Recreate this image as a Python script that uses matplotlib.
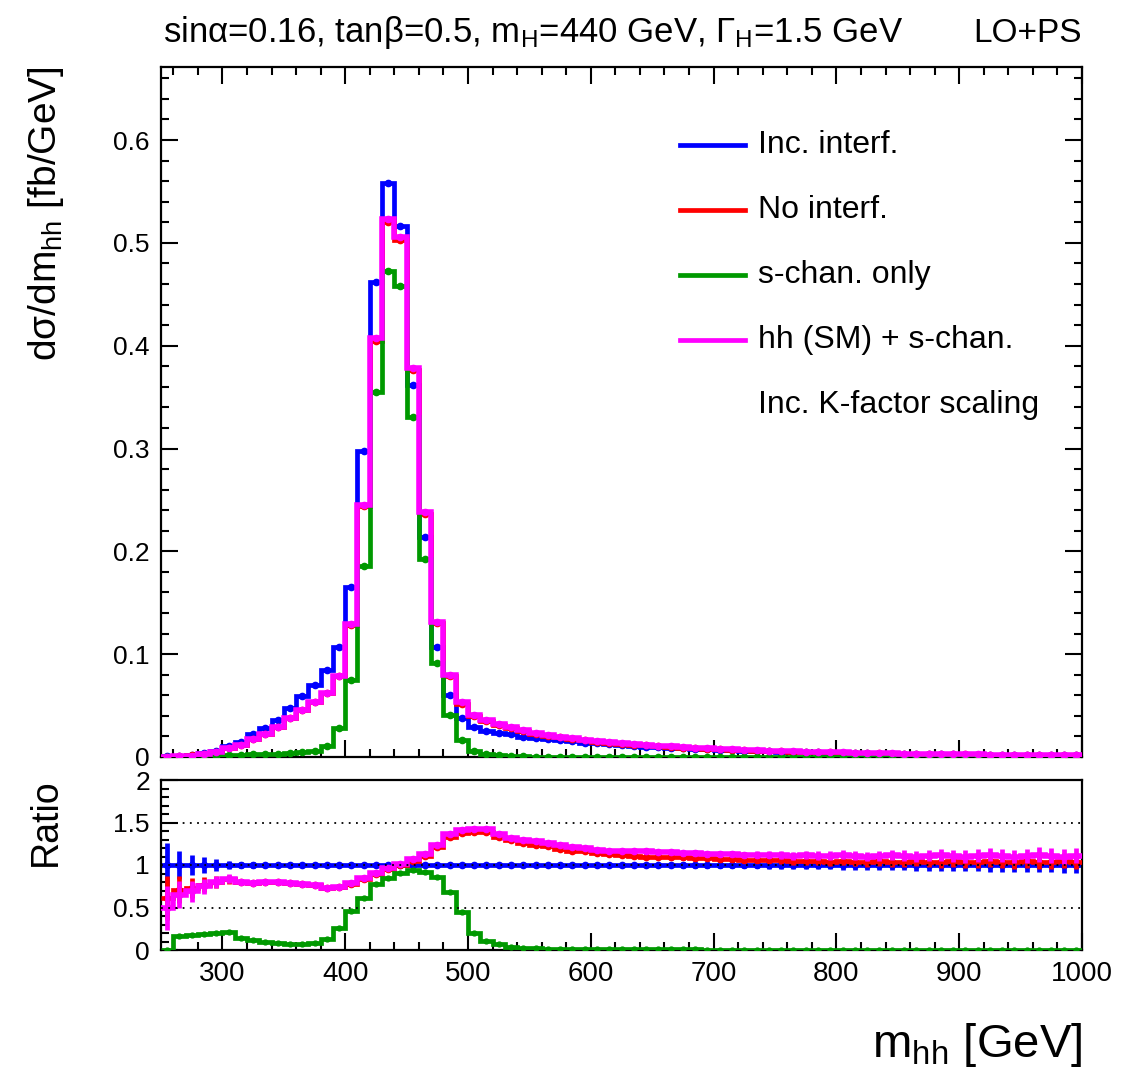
import numpy as np
import matplotlib
matplotlib.use("Agg")
import matplotlib.pyplot as plt
from matplotlib.ticker import MultipleLocator, FormatStrFormatter

plt.rcParams['font.family'] = ['Liberation Sans', 'DejaVu Sans']
plt.rcParams['mathtext.fontset'] = 'custom'
plt.rcParams['mathtext.rm'] = 'Liberation Sans'
plt.rcParams['mathtext.it'] = 'Liberation Sans:italic'

# m_hh binning, 10 GeV bins from 250 to 1000 GeV
edges = np.arange(250, 1001, 10)
centers = 0.5 * (edges[1:] + edges[:-1])

# dsigma/dm_hh [fb/GeV]
inc_interf = [0.0005, 0.0010, 0.0020, 0.0040, 0.0062, 0.0110, 0.0150, 0.0220, 0.0280, 0.0360,
              0.0480, 0.0590, 0.0700, 0.0850, 0.1070, 0.1650, 0.2980, 0.4620, 0.5580, 0.5160,
              0.3620, 0.2135, 0.1070, 0.0600, 0.0380, 0.0290, 0.0252, 0.0238, 0.0221, 0.0199,
              0.0182, 0.0171, 0.0162, 0.0151, 0.0139, 0.0132, 0.0124, 0.0115, 0.0109, 0.0102,
              0.0096, 0.0090, 0.0085, 0.0080, 0.0075, 0.0071, 0.0066, 0.0063, 0.0059, 0.0055,
              0.0052, 0.0050, 0.0047, 0.0044, 0.0042, 0.0040, 0.0038, 0.0036, 0.0034, 0.0032,
              0.0031, 0.0029, 0.0028, 0.0026, 0.0025, 0.0024, 0.0023, 0.0022, 0.0021, 0.0020,
              0.0019, 0.0018, 0.0017, 0.0016, 0.0015]
no_interf = [0.0003, 0.0007, 0.0015, 0.0031, 0.0049, 0.0092, 0.0120, 0.0174, 0.0224, 0.0288,
             0.0380, 0.0460, 0.0530, 0.0620, 0.0790, 0.1285, 0.2440, 0.4050, 0.5200, 0.5030,
             0.3760, 0.2360, 0.1300, 0.0790, 0.0520, 0.0402, 0.0348, 0.0316, 0.0284, 0.0252,
             0.0226, 0.0209, 0.0193, 0.0177, 0.0161, 0.0150, 0.0140, 0.0130, 0.0121, 0.0112,
             0.0105, 0.0098, 0.0092, 0.0086, 0.0081, 0.0076, 0.0071, 0.0067, 0.0063, 0.0059,
             0.0055, 0.0052, 0.0049, 0.0046, 0.0044, 0.0042, 0.0040, 0.0038, 0.0036, 0.0034,
             0.0032, 0.0030, 0.0029, 0.0027, 0.0026, 0.0025, 0.0024, 0.0023, 0.0022, 0.0021,
             0.0020, 0.0019, 0.0018, 0.0017, 0.0016]
s_chan = [0.0, 0.0002, 0.0004, 0.0008, 0.0012, 0.0023, 0.0022, 0.0026, 0.0026, 0.0028,
          0.0036, 0.0044, 0.0060, 0.0106, 0.0278, 0.0750, 0.1860, 0.3550, 0.4730, 0.4580,
          0.3310, 0.1930, 0.0915, 0.0408, 0.0170, 0.0062, 0.0027, 0.0016, 0.0009, 0.0006,
          0.0004, 0.0003, 0.0002, 0.0002, 0.0002, 0.0001, 0.0001, 0.0001, 0.0001, 0.0001,
          0.0001, 0.0001, 0.0001, 0.0001, 0.0001, 0.0001, 0.0001, 0.0001, 0.0001, 0.0001,
          0.0001, 0.0, 0.0, 0.0, 0.0, 0.0, 0.0, 0.0, 0.0, 0.0,
          0.0, 0.0, 0.0, 0.0, 0.0, 0.0, 0.0, 0.0, 0.0, 0.0,
          0.0, 0.0, 0.0, 0.0, 0.0]
sm_plus_s = [0.0003, 0.0007, 0.0014, 0.0030, 0.0049, 0.0092, 0.0120, 0.0174, 0.0224, 0.0288,
             0.0380, 0.0460, 0.0530, 0.0620, 0.0790, 0.1290, 0.2450, 0.4070, 0.5230, 0.5060,
             0.3780, 0.2380, 0.1316, 0.0800, 0.0530, 0.0410, 0.0355, 0.0322, 0.0290, 0.0258,
             0.0232, 0.0215, 0.0199, 0.0183, 0.0167, 0.0156, 0.0145, 0.0135, 0.0126, 0.0118,
             0.0110, 0.0103, 0.0097, 0.0091, 0.0085, 0.0080, 0.0075, 0.0070, 0.0066, 0.0062,
             0.0058, 0.0055, 0.0052, 0.0049, 0.0046, 0.0044, 0.0042, 0.0040, 0.0038, 0.0036,
             0.0034, 0.0032, 0.0031, 0.0029, 0.0028, 0.0027, 0.0025, 0.0024, 0.0023, 0.0022,
             0.0021, 0.0020, 0.0019, 0.0018, 0.0017]

# ratio to "Inc. interf."
ratio_inc = [1.0] * 75
ratio_noint = [0.61, 0.71, 0.73, 0.77, 0.80, 0.83, 0.80, 0.79, 0.80, 0.80,
               0.79, 0.78, 0.76, 0.73, 0.74, 0.78, 0.84, 0.90, 0.95, 1.00,
               1.05, 1.11, 1.21, 1.33, 1.38, 1.39, 1.39, 1.33, 1.29, 1.26,
               1.24, 1.22, 1.19, 1.17, 1.16, 1.14, 1.13, 1.12, 1.11, 1.10,
               1.10, 1.09, 1.09, 1.08, 1.08, 1.07, 1.07, 1.06, 1.06, 1.06,
               1.06, 1.05, 1.05, 1.05, 1.04, 1.05, 1.04, 1.04, 1.05, 1.04,
               1.04, 1.05, 1.04, 1.04, 1.05, 1.04, 1.04, 1.05, 1.04, 1.04,
               1.05, 1.04, 1.04, 1.05, 1.04]
ratio_schan = [0.0, 0.16, 0.18, 0.19, 0.195, 0.21, 0.145, 0.117, 0.094, 0.078,
               0.074, 0.074, 0.086, 0.125, 0.26, 0.456, 0.61, 0.78, 0.846, 0.905,
               0.936, 0.916, 0.858, 0.678, 0.444, 0.203, 0.105, 0.066, 0.039, 0.027,
               0.020, 0.016, 0.013, 0.011, 0.010, 0.009, 0.009, 0.008, 0.008, 0.007,
               0.007, 0.006, 0.006, 0.006, 0.005, 0.005, 0.005, 0.005, 0.004, 0.004,
               0.004, 0.004, 0.004, 0.003, 0.003, 0.003, 0.003, 0.003, 0.003, 0.003,
               0.003, 0.002, 0.002, 0.002, 0.002, 0.002, 0.002, 0.002, 0.002, 0.002,
               0.002, 0.002, 0.002, 0.002, 0.002]
ratio_sm_s = [0.49, 0.65, 0.69, 0.75, 0.80, 0.84, 0.80, 0.79, 0.80, 0.80,
              0.79, 0.78, 0.76, 0.73, 0.74, 0.79, 0.85, 0.91, 0.96, 1.01,
              1.07, 1.13, 1.24, 1.36, 1.41, 1.42, 1.42, 1.36, 1.32, 1.30,
              1.28, 1.26, 1.23, 1.21, 1.20, 1.18, 1.17, 1.17, 1.16, 1.16,
              1.15, 1.15, 1.14, 1.14, 1.13, 1.13, 1.13, 1.12, 1.12, 1.12,
              1.12, 1.11, 1.12, 1.11, 1.11, 1.12, 1.11, 1.10, 1.11, 1.12,
              1.11, 1.10, 1.11, 1.12, 1.11, 1.10, 1.11, 1.12, 1.11, 1.10,
              1.11, 1.12, 1.11, 1.10, 1.11]
# half size of the ratio error bars
ratio_err = [0.26, 0.16, 0.12, 0.09, 0.07, 0.05, 0.04, 0.03, 0.025, 0.02,
             0.018, 0.015, 0.012, 0.010, 0.010, 0.008, 0.008, 0.008, 0.008, 0.008,
             0.008, 0.008, 0.008, 0.008, 0.008, 0.008, 0.008, 0.009, 0.010, 0.011,
             0.012, 0.013, 0.014, 0.015, 0.016, 0.018, 0.020, 0.021, 0.023, 0.024,
             0.026, 0.028, 0.030, 0.031, 0.033, 0.035, 0.037, 0.038, 0.040, 0.042,
             0.044, 0.046, 0.048, 0.050, 0.052, 0.054, 0.056, 0.058, 0.060, 0.062,
             0.064, 0.066, 0.068, 0.070, 0.072, 0.074, 0.076, 0.078, 0.080, 0.082,
             0.084, 0.086, 0.088, 0.090, 0.092]

series = [("Inc. interf.", inc_interf, ratio_inc, "#0000ff", 3.4),
          ("No interf.", no_interf, ratio_noint, "#ff0000", 3.4),
          ("s-chan. only", s_chan, ratio_schan, "#009900", 3.4),
          ("hh (SM) + s-chan.", sm_plus_s, ratio_sm_s, "#ff00ff", 4.0)]

W, H = 1143, 1070
fig = plt.figure(figsize=(W / 100, H / 100), dpi=100)
ax = fig.add_axes([161 / W, 1 - 757 / H, 921 / W, 690 / H])
rax = fig.add_axes([161 / W, 1 - 950 / H, 921 / W, 170 / H])

err = np.array(ratio_err)
for k, (lab, vals, rat, col, lw) in enumerate(series):
    vals = np.array(vals)
    rat = np.array(rat)
    z = 2 + k
    ax.stairs(vals, edges, baseline=None, color=col, lw=lw, zorder=z)
    ax.errorbar(centers, vals, yerr=vals * err * 0.7, fmt='o', ms=4.5, color=col,
                elinewidth=2.5, capsize=0, zorder=z)
    rax.stairs(rat, edges, baseline=None, color=col, lw=lw, zorder=z)
    if col == "#009900":
        rax.errorbar(centers, rat, fmt='o', ms=3.5, color=col, zorder=z)
    else:
        rax.errorbar(centers, rat, yerr=err, fmt='o', ms=4.5, color=col,
                     elinewidth=3.4, capsize=0, zorder=z)

for y in [0.5, 1.0, 1.5]:
    rax.axhline(y, color='k', ls=(0, (1, 3)), lw=1.3, zorder=10)

# axes
ax.set_xlim(250, 1000)
ax.set_ylim(0, 0.671)
rax.set_xlim(250, 1000)
rax.set_ylim(0, 2)
for a in (ax, rax):
    a.xaxis.set_major_locator(MultipleLocator(100))
    a.xaxis.set_minor_locator(MultipleLocator(20))
    for s in a.spines.values():
        s.set_linewidth(1.6)
    a.tick_params(which='both', direction='in', width=1.5, labelsize=19, pad=8)
    a.tick_params(which='major', length=12)
    a.tick_params(which='minor', length=6)
ax.yaxis.set_major_locator(MultipleLocator(0.1))
ax.yaxis.set_minor_locator(MultipleLocator(0.02))
ax.yaxis.set_major_formatter(FormatStrFormatter('%g'))
ax.tick_params(which='both', top=True, right=True, labelbottom=False)
rax.yaxis.set_major_locator(MultipleLocator(0.5))
rax.yaxis.set_minor_locator(MultipleLocator(0.1))
rax.yaxis.set_major_formatter(FormatStrFormatter('%g'))
rax.tick_params(which='both', top=False, right=False)
rax.tick_params(axis='x', labelsize=20, pad=8)

# legend drawn by hand, ROOT style
rows = [145, 210, 275, 340]
for (lab, vals, rat, col, lw), py in zip(series, rows):
    ya = (757 - py) / 690
    ax.plot([(680 - 161) / 921, (745 - 161) / 921], [ya, ya], color=col, lw=3.4,
            transform=ax.transAxes, clip_on=False)
    ax.text((758 - 161) / 921, ya, lab, fontsize=23, va='center', transform=ax.transAxes)
ax.text((758 - 161) / 921, (757 - 405) / 690, "Inc. K-factor scaling", fontsize=23,
        va='center', transform=ax.transAxes)

# titles
fig.text(163 / W, 1 - 42 / H,
         r'sinα=0.16, tanβ=0.5, m$_{\rm H}$=440 GeV, Γ$_{\rm H}$=1.5 GeV',
         fontsize=25, ha='left', va='baseline')
fig.text(1082 / W, 1 - 42 / H, 'LO+PS', fontsize=24, ha='right', va='baseline')
fig.text(46 / W, 1 - 66 / H, r'dσ/dm$_{\rm hh}$ [fb/GeV]', fontsize=28,
         rotation=90, ha='center', va='top')
fig.text(46 / W, 1 - 778 / H, 'Ratio', fontsize=27, rotation=90, ha='center', va='top')
fig.text(1082 / W, 1 - 1057 / H, r'm$_{\rm hh}$ [GeV]', fontsize=34,
         ha='right', va='baseline')

fig.savefig('out.png', dpi=100)
